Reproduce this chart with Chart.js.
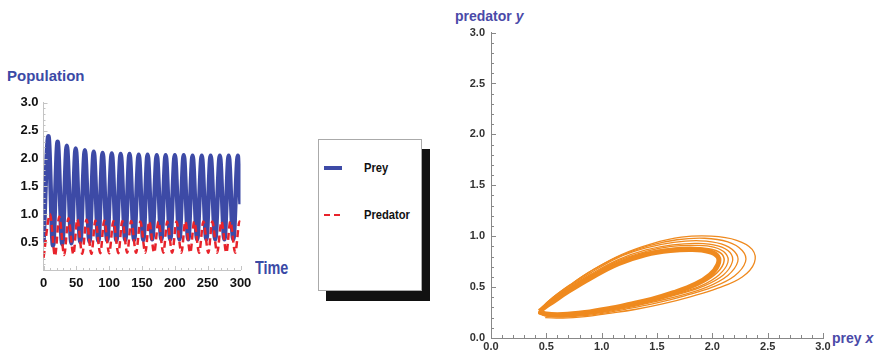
<!DOCTYPE html>
<html>
<head>
<meta charset="utf-8">
<script src="https://cdn.jsdelivr.net/npm/chart.js"></script>
<style>
  body { margin: 0; width: 877px; height: 356px; position: relative; background: #fff; overflow: hidden;
         font-family: "Liberation Sans", Arial, sans-serif; }
  .abs { position: absolute; white-space: nowrap; }
  .lbl { font-weight: bold; color: #3b4aa6; line-height: 1; }
  #legendShadow { position: absolute; left: 326px; top: 149px; width: 104px; height: 152px; background: #111; }
  #legendBox { position: absolute; left: 318px; top: 139px; width: 104px; height: 152px; box-sizing: border-box;
               border: 1px solid #aaa; background: #fff; }
  .item { position: absolute; left: 5px; height: 14px; width: 95px; }
  .item .swatch { position: absolute; left: 0; width: 18px; }
  .item span { position: absolute; left: 40px; top: -1px; font-size: 13px; font-weight: bold; color: #111;
               transform: scaleX(0.86); transform-origin: left center; }
</style>
</head>
<body>
<div class="abs lbl" style="left:7px;top:68px;font-size:15px;">Population</div>
<div class="abs lbl" style="left:255px;top:259px;font-size:18px;transform:scaleX(0.8);transform-origin:left center;">Time</div>
<canvas id="timeChart" class="abs" width="300" height="210" style="left:0;top:90px;"></canvas>

<div id="legendShadow"></div>
<div id="legendBox"></div>

<div class="abs lbl" style="left:455px;top:9px;font-size:14px;color:#4a4aa8;">predator <i>y</i></div>
<div class="abs lbl" style="left:832px;top:331px;font-size:14px;color:#4a4aa8;">prey <i>x</i></div>
<canvas id="phaseChart" class="abs" width="437" height="336" style="left:440px;top:20px;"></canvas>

<script>
// ---- time series ----
var timeStart = 0, timeEnd = 300;
var timeTicks = [0, 50, 100, 150, 200, 250, 300];
var popTicks = [0.5, 1.0, 1.5, 2.0, 2.5, 3.0];

var preyFirst = 0.49, preyLast = 1.18;
var preyPeakTime = [7.5, 21.5, 35.5, 49, 63, 76.5, 90, 104, 117.5, 131, 145, 158.5, 172.5, 186, 200, 213.5, 227, 241, 254.5, 268.5, 282, 296];
var preyPeak = [2.40, 2.30, 2.23, 2.18, 2.15, 2.12, 2.10, 2.09, 2.08, 2.08, 2.07, 2.07, 2.06, 2.06, 2.06, 2.06, 2.05, 2.05, 2.05, 2.05, 2.05, 2.05];
var preyTroughTime = [14.5, 28.5, 42.5, 56, 70, 83.5, 97, 111, 124.5, 138, 152, 165.5, 179.5, 193, 207, 220.5, 234, 248, 261.5, 275.5, 289];
var preyTrough = [0.44, 0.46, 0.48, 0.50, 0.51, 0.52, 0.53, 0.53, 0.54, 0.54, 0.54, 0.55, 0.55, 0.55, 0.55, 0.55, 0.55, 0.55, 0.55, 0.55, 0.55];

var predFirst = 0.22, predLast = 0.86;
var predPeakTime = [10, 24, 38, 51.5, 65.5, 79, 92.5, 106.5, 120, 133.5, 147.5, 161, 175, 188.5, 202.5, 216, 229.5, 243.5, 257, 271, 284.5, 298.5];
var predPeak = [1.00, 0.96, 0.93, 0.91, 0.90, 0.89, 0.89, 0.88, 0.88, 0.88, 0.87, 0.87, 0.87, 0.87, 0.87, 0.87, 0.87, 0.87, 0.87, 0.87, 0.87, 0.87];
var predTroughTime = [17.5, 31.5, 45.5, 59, 73, 86.5, 100, 114, 127.5, 141, 155, 168.5, 182.5, 196, 210, 223.5, 237, 251, 264.5, 278.5, 292];
var predTrough = [0.25, 0.27, 0.28, 0.29, 0.29, 0.30, 0.30, 0.30, 0.31, 0.31, 0.31, 0.31, 0.31, 0.31, 0.31, 0.31, 0.31, 0.31, 0.31, 0.31, 0.31];

// ---- phase plane loops, outermost first ----
var phaseTicks = [0, 0.5, 1.0, 1.5, 2.0, 2.5, 3.0];
var orbit1 = [[0.49,0.20],[0.65,0.195],[0.85,0.21],[1.05,0.24],[1.30,0.28],[1.55,0.335],[1.80,0.405],[2.05,0.49],[2.27,0.60],[2.38,0.74],[2.36,0.87],[2.22,0.96],[1.99,1.00],[1.72,0.99],[1.45,0.925],[1.18,0.82],[0.92,0.67],[0.71,0.52],[0.56,0.40],[0.47,0.31],[0.43,0.24]];
var orbit2 = [[0.43,0.24],[0.50,0.215],[0.65,0.205],[0.85,0.22],[1.05,0.25],[1.25,0.29],[1.50,0.345],[1.75,0.415],[2.00,0.50],[2.20,0.61],[2.30,0.75],[2.27,0.86],[2.14,0.945],[1.93,0.98],[1.68,0.965],[1.42,0.905],[1.15,0.80],[0.90,0.655],[0.70,0.51],[0.55,0.39],[0.47,0.31],[0.43,0.24]];
var orbit3 = [[0.43,0.245],[0.50,0.22],[0.65,0.21],[0.85,0.23],[1.05,0.26],[1.25,0.30],[1.45,0.35],[1.70,0.415],[1.95,0.50],[2.14,0.615],[2.23,0.75],[2.20,0.85],[2.08,0.925],[1.89,0.955],[1.65,0.94],[1.40,0.885],[1.15,0.79],[0.90,0.64],[0.70,0.50],[0.55,0.38],[0.47,0.305],[0.43,0.245]];
var orbit4 = [[0.43,0.25],[0.50,0.222],[0.65,0.215],[0.85,0.235],[1.05,0.27],[1.25,0.31],[1.45,0.36],[1.68,0.425],[1.92,0.51],[2.10,0.62],[2.18,0.745],[2.16,0.84],[2.05,0.905],[1.87,0.93],[1.64,0.915],[1.40,0.865],[1.15,0.77],[0.90,0.625],[0.70,0.49],[0.55,0.375],[0.47,0.30],[0.43,0.25]];
var orbit5 = [[0.43,0.25],[0.50,0.225],[0.65,0.22],[0.85,0.24],[1.05,0.275],[1.25,0.315],[1.45,0.365],[1.67,0.43],[1.90,0.515],[2.06,0.62],[2.14,0.74],[2.12,0.83],[2.02,0.89],[1.85,0.91],[1.63,0.90],[1.40,0.85],[1.15,0.76],[0.90,0.615],[0.70,0.48],[0.55,0.37],[0.47,0.30],[0.43,0.25]];
var orbit6 = [[0.435,0.255],[0.50,0.23],[0.65,0.225],[0.85,0.245],[1.05,0.28],[1.25,0.32],[1.45,0.37],[1.65,0.435],[1.87,0.52],[2.02,0.62],[2.10,0.73],[2.09,0.82],[2.00,0.87],[1.84,0.89],[1.63,0.88],[1.40,0.835],[1.15,0.745],[0.90,0.605],[0.70,0.47],[0.55,0.36],[0.47,0.295],[0.435,0.255]];
var limitCycle = [[0.44,0.26],[0.50,0.235],[0.65,0.23],[0.85,0.25],[1.05,0.285],[1.25,0.33],[1.45,0.38],[1.65,0.445],[1.85,0.53],[1.98,0.62],[2.05,0.72],[2.05,0.80],[1.97,0.85],[1.82,0.87],[1.62,0.86],[1.40,0.82],[1.15,0.73],[0.90,0.59],[0.70,0.46],[0.55,0.35],[0.47,0.29],[0.44,0.26]];

var BLUE = '#3d4aa6', RED = '#e8232b', ORANGE = '#ef8a1f';

function buildSeries(first, peakT, peakV, troughT, troughV, last) {
  var pts = [{ x: timeStart, y: first }];
  peakT.forEach(function (t, i) { pts.push({ x: t, y: peakV[i] }); });
  troughT.forEach(function (t, i) { pts.push({ x: t, y: troughV[i] }); });
  pts.push({ x: timeEnd, y: last });
  return pts.sort(function (a, b) { return a.x - b.x; });
}
function toPoints(loop) {
  return loop.map(function (p) { return { x: p[0], y: p[1] }; });
}

// Mathematica-style ticks pointing into the plot
var inwardTicks = {
  id: 'inwardTicks',
  afterDatasetsDraw: function (chart, args, o) {
    var ctx = chart.ctx, a = chart.chartArea, sx = chart.scales.x, sy = chart.scales.y;
    ctx.save();
    ctx.strokeStyle = o.color;
    ctx.lineWidth = 1;
    ctx.beginPath();
    var nx = Math.round((sx.max - sx.min) / o.xMinor);
    for (var i = 0; i <= nx; i++) {
      var px = Math.round(sx.getPixelForValue(sx.min + i * o.xMinor)) + 0.5;
      var len = i % o.every === 0 ? o.major : o.minor;
      ctx.moveTo(px, a.bottom);
      ctx.lineTo(px, a.bottom - len);
    }
    var ny = Math.round((sy.max - sy.min) / o.yMinor);
    for (var j = 0; j <= ny; j++) {
      var py = Math.round(sy.getPixelForValue(sy.min + j * o.yMinor)) + 0.5;
      var len2 = j % o.every === 0 ? o.major : o.minor;
      ctx.moveTo(a.left, py);
      ctx.lineTo(a.left + len2, py);
    }
    ctx.stroke();
    ctx.restore();
  }
};

function fixedTicks(list) {
  return function (scale) { scale.ticks = list.map(function (v) { return { value: v }; }); };
}

var timeChart = new Chart(document.getElementById('timeChart').getContext('2d'), {
  type: 'line',
  data: {
    datasets: [{
      label: 'Prey',
      data: buildSeries(preyFirst, preyPeakTime, preyPeak, preyTroughTime, preyTrough, preyLast),
      borderColor: BLUE,
      borderWidth: 4.5,
      order: 1
    }, {
      label: 'Predator',
      data: buildSeries(predFirst, predPeakTime, predPeak, predTroughTime, predTrough, predLast),
      borderColor: RED,
      borderWidth: 2.5,
      borderDash: [7, 4],
      order: 0
    }]
  },
  options: {
    responsive: false,
    animation: false,
    layout: { padding: { top: 10, right: 59.5, left: 0, bottom: 0 } },
    elements: { point: { radius: 0 }, line: { cubicInterpolationMode: 'monotone', fill: false } },
    plugins: {
      legend: { display: false },
      tooltip: { enabled: false },
      inwardTicks: { color: '#c4c4c4', xMinor: 10, yMinor: 0.1, every: 5, major: 4, minor: 2 }
    },
    scales: {
      x: {
        type: 'linear', min: timeStart, max: timeEnd,
        afterBuildTicks: fixedTicks(timeTicks),
        afterFit: function (s) { s.height = 30; },
        grid: { display: false, drawTicks: false },
        border: { display: true, color: '#c4c4c4' },
        ticks: { color: '#111', padding: 6, maxRotation: 0, autoSkip: false,
                 font: { family: 'Liberation Sans', weight: 'bold', size: 13 } }
      },
      y: {
        min: 0, max: 3,
        afterBuildTicks: fixedTicks(popTicks),
        afterFit: function (s) { s.width = 43.5; },
        grid: { display: false, drawTicks: false },
        border: { display: true, color: '#c4c4c4' },
        ticks: { color: '#111', padding: 5, autoSkip: false,
                 font: { family: 'Liberation Sans', weight: 'bold', size: 13 },
                 callback: function (v) { return v.toFixed(1); } }
      }
    }
  },
  plugins: [inwardTicks]
});

// legend box built from the time chart's datasets
var box = document.getElementById('legendBox');
timeChart.data.datasets.forEach(function (ds, i) {
  var item = document.createElement('div');
  item.className = 'item';
  item.style.top = (21 + i * 47) + 'px';
  var sw = document.createElement('div');
  sw.className = 'swatch';
  if (ds.borderDash) {
    sw.style.top = '6px';
    sw.style.height = '2px';
    sw.style.background = 'repeating-linear-gradient(90deg,' + ds.borderColor + ' 0 6px, transparent 6px 10px)';
  } else {
    sw.style.top = '5px';
    sw.style.height = '4px';
    sw.style.background = ds.borderColor;
  }
  var tx = document.createElement('span');
  tx.textContent = ds.label;
  item.appendChild(sw);
  item.appendChild(tx);
  box.appendChild(item);
});

function loopSet(loop, width) {
  return { data: toPoints(loop), showLine: true, borderColor: ORANGE, borderWidth: width,
           tension: 0.4, pointRadius: 0, fill: false };
}

new Chart(document.getElementById('phaseChart').getContext('2d'), {
  type: 'scatter',
  data: {
    datasets: [
      loopSet(orbit1, 1.3), loopSet(orbit2, 1.3), loopSet(orbit3, 1.3),
      loopSet(orbit4, 1.3), loopSet(orbit5, 1.3), loopSet(orbit6, 1.5),
      loopSet(limitCycle, 5)
    ]
  },
  options: {
    responsive: false,
    animation: false,
    layout: { padding: { top: 11, right: 54, left: 0, bottom: 0 } },
    plugins: {
      legend: { display: false },
      tooltip: { enabled: false },
      inwardTicks: { color: '#888', xMinor: 0.1, yMinor: 0.1, every: 5, major: 5, minor: 3 }
    },
    scales: {
      x: {
        type: 'linear', min: 0, max: 3,
        afterBuildTicks: fixedTicks(phaseTicks),
        afterFit: function (s) { s.height = 18; },
        grid: { display: false, drawTicks: false },
        border: { display: true, color: '#888' },
        ticks: { color: '#333', padding: 2, maxRotation: 0, autoSkip: false,
                 font: { family: 'Liberation Sans', weight: 'bold', size: 11 },
                 callback: function (v) { return v.toFixed(1); } }
      },
      y: {
        type: 'linear', min: 0, max: 3,
        afterBuildTicks: fixedTicks(phaseTicks),
        afterFit: function (s) { s.width = 51; },
        grid: { display: false, drawTicks: false },
        border: { display: true, color: '#888' },
        ticks: { color: '#333', padding: 6, autoSkip: false,
                 font: { family: 'Liberation Sans', weight: 'bold', size: 11 },
                 callback: function (v) { return v.toFixed(1); } }
      }
    }
  },
  plugins: [inwardTicks]
});
</script>
</body>
</html>
